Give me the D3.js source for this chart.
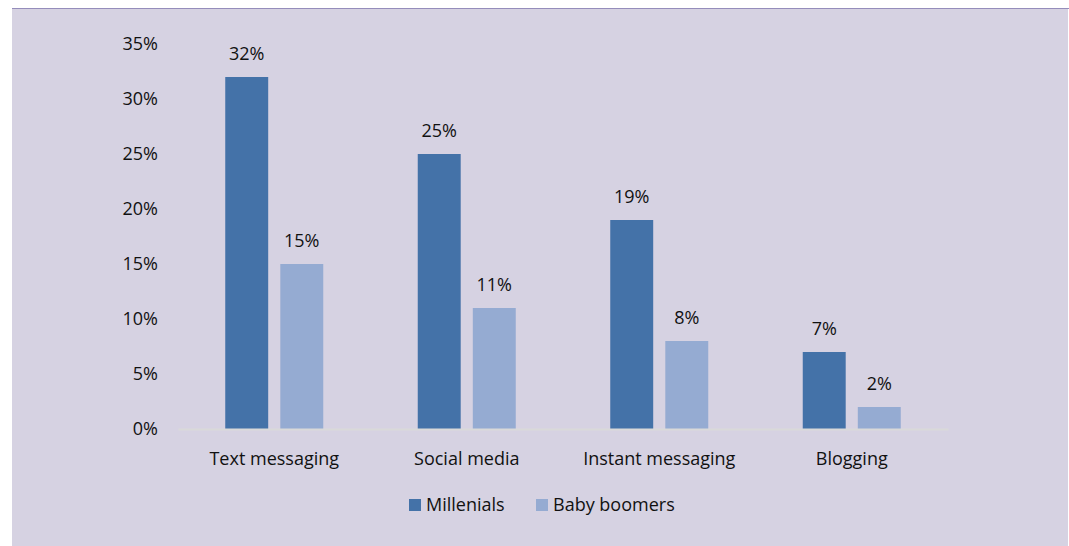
<!DOCTYPE html>
<html>
<head>
<meta charset="utf-8">
<script src="https://cdn.jsdelivr.net/npm/d3@7"></script>
<style>
  body { margin: 0; background: #fff; }
  text { font-family: "Open Sans", "Liberation Sans", sans-serif; fill: #111; }
</style>
</head>
<body>
<svg id="chart"></svg>
<script>
var width = 1069,
    height = 546;

var categories = ["Text messaging", "Social media", "Instant messaging", "Blogging"];
var seriesNames = ["Millenials", "Baby boomers"];
var millenials = [32, 25, 19, 7];
var babyBoomers = [15, 11, 8, 2];
var yTicks = [0, 5, 10, 15, 20, 25, 30, 35];
var colors = ["#4472a8", "#95abd2"];

var plot = {left: 178, right: 948, top: 44, bottom: 429};
var fontSize = "18px";

var svg = d3.select("#chart")
    .attr("width", width)
    .attr("height", height);

// panel background
svg.append("rect")
    .attr("x", 12).attr("y", 8)
    .attr("width", width - 13).attr("height", height - 8)
    .attr("fill", "#d6d2e2");
svg.append("line")
    .attr("x1", 12).attr("x2", width)
    .attr("y1", 8.5).attr("y2", 8.5)
    .attr("stroke", "#958dbb");

var xScale = d3.scaleBand()
    .domain(categories)
    .range([plot.left, plot.right]);

var xInner = d3.scaleBand()
    .domain(seriesNames)
    .range([0, 98])
    .paddingInner(0.22);

var yScale = d3.scaleLinear()
    .domain([0, 35])
    .range([plot.bottom, plot.top]);

// y axis labels (no line)
var yAxis = d3.axisLeft(yScale)
    .tickValues(yTicks)
    .tickSize(0)
    .tickPadding(0)
    .tickFormat(d => d + "%");
var gy = svg.append("g")
    .attr("transform", "translate(158,0)")
    .call(yAxis);
gy.select(".domain").remove();
gy.selectAll("text")
    .style("font-size", fontSize)
    .attr("fill", "#111");

var data = categories.map((c, i) => ({cat: c, values: [millenials[i], babyBoomers[i]]}));

var groups = svg.selectAll("g.cat").data(data).enter().append("g")
    .attr("class", "cat")
    .attr("transform", d => "translate(" + (xScale(d.cat) + xScale.bandwidth() / 2 - 49) + ",0)");

groups.selectAll("rect")
    .data(d => d.values.map((v, j) => ({name: seriesNames[j], value: v})))
    .enter().append("rect")
    .attr("x", d => xInner(d.name))
    .attr("width", xInner.bandwidth())
    .attr("y", d => yScale(d.value))
    .attr("height", d => yScale(0) - yScale(d.value))
    .attr("fill", (d, j) => colors[j]);

groups.selectAll("text.val")
    .data(d => d.values.map((v, j) => ({name: seriesNames[j], value: v})))
    .enter().append("text")
    .attr("class", "val")
    .attr("x", d => xInner(d.name) + xInner.bandwidth() / 2)
    .attr("y", d => yScale(d.value) - 17)
    .attr("text-anchor", "middle")
    .style("font-size", fontSize)
    .text(d => d.value + "%");

// x axis
var xAxis = d3.axisBottom(xScale).tickSize(0).tickPadding(23);
var gx = svg.append("g")
    .attr("transform", "translate(0," + plot.bottom + ")")
    .call(xAxis);
gx.select(".domain").attr("stroke", "#d9d9d9").attr("stroke-width", 2);
gx.selectAll("text")
    .style("font-size", fontSize)
    .attr("fill", "#111");

// legend
var legendX = [409, 536];
var legend = svg.selectAll("g.legend").data(seriesNames).enter().append("g")
    .attr("class", "legend")
    .attr("transform", (d, i) => "translate(" + legendX[i] + ",505)");
legend.append("rect")
    .attr("x", 0).attr("y", -6)
    .attr("width", 12).attr("height", 12)
    .attr("fill", (d, i) => colors[i]);
legend.append("text")
    .attr("x", 17).attr("y", 6)
    .style("font-size", fontSize)
    .text(d => d);
</script>
</body>
</html>
